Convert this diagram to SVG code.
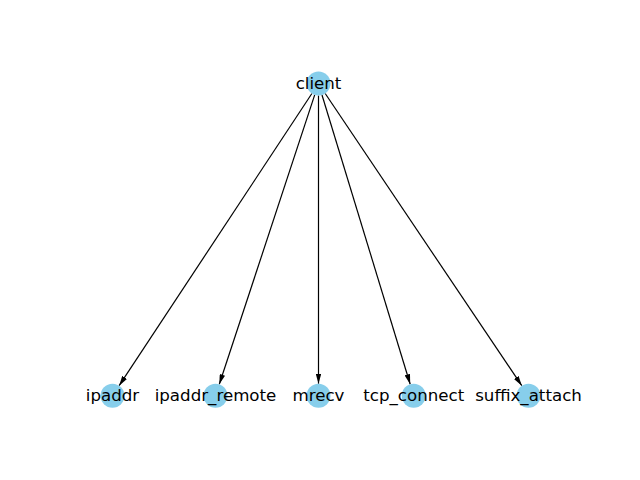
<svg xmlns="http://www.w3.org/2000/svg" width="640" height="480" viewBox="0 0 640 480">
<style>
.node circle{fill:#87CEEB;}
.node text{font-family:"DejaVu Sans",sans-serif;font-size:16.67px;fill:#000;text-anchor:middle;dominant-baseline:central;}
.edge{stroke:#000;stroke-width:1.2;fill:none;marker-end:url(#arr);}
</style>
<defs>
<marker id="arr" markerUnits="userSpaceOnUse" markerWidth="10" markerHeight="5.6" viewBox="0 0 10 5.6" refX="10" refY="2.8" orient="auto">
<path d="M0,0 L10,2.8 L0,5.6 Z" fill="#000"/>
</marker>
</defs>
<rect width="640" height="480" fill="#fff"/>
<g id="connectors">
<line class="edge" x1="311.9" y1="93.5" x2="119.1" y2="385.7"/>
<line class="edge" x1="314.7" y1="94.9" x2="219.3" y2="384.3"/>
<line class="edge" x1="318.5" y1="95.5" x2="318.5" y2="383.7"/>
<line class="edge" x1="322.0" y1="95.0" x2="410.2" y2="384.2"/>
<line class="edge" x1="325.2" y1="93.5" x2="521.8" y2="385.7"/>
</g>
<g id="client" class="node"><circle cx="318.5" cy="83.5" r="12"/><text x="318.5" y="83.5">client</text></g>
<g id="ipaddr" class="node"><circle cx="112.5" cy="395.7" r="12"/><text x="112.5" y="395.7">ipaddr</text></g>
<g id="ipaddr_remote" class="node"><circle cx="215.5" cy="395.7" r="12"/><text x="215.5" y="395.7">ipaddr_remote</text></g>
<g id="mrecv" class="node"><circle cx="318.5" cy="395.7" r="12"/><text x="318.5" y="395.7">mrecv</text></g>
<g id="tcp_connect" class="node"><circle cx="413.7" cy="395.7" r="12"/><text x="413.7" y="395.7">tcp_connect</text></g>
<g id="suffix_attach" class="node"><circle cx="528.5" cy="395.7" r="12"/><text x="528.5" y="395.7">suffix_attach</text></g>
</svg>
